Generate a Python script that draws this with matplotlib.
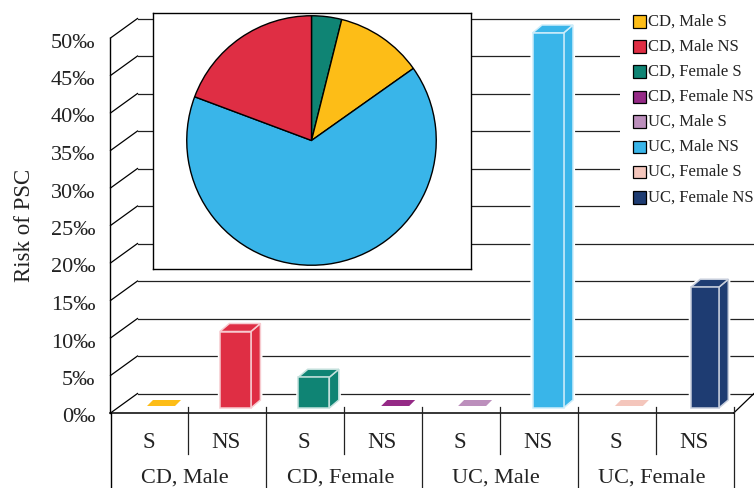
import matplotlib
matplotlib.use("Agg")
import matplotlib.pyplot as plt
from matplotlib.patches import Polygon, Rectangle

plt.rcParams["font.family"] = ["Liberation Serif", "DejaVu Serif"]

series_names = ["CD, Male S", "CD, Male NS", "CD, Female S", "CD, Female NS",
                "UC, Male S", "UC, Male NS", "UC, Female S", "UC, Female NS"]
series_colors = ["#FDBD17", "#DF2E44", "#0F8474", "#952A86",
                 "#BC8FBC", "#39B5E9", "#F4C6BC", "#1E3C72"]
risk_values = [0, 10.2, 4.1, 0, 0, 50, 0, 16.1]
sub_labels = ["S", "NS", "S", "NS", "S", "NS", "S", "NS"]
group_labels = ["CD, Male", "CD, Female", "UC, Male", "UC, Female"]
y_ticks = [0, 5, 10, 15, 20, 25, 30, 35, 40, 45, 50]

# inset pie, clockwise from twelve o'clock
pie_colors = ["#0F8474", "#FDBD17", "#39B5E9", "#DF2E44"]
pie_values = [3.9, 11.3, 65.5, 19.3]

W, H = 754, 488
AX_LEFT, AX_RIGHT = 110.5, 733.7
AX_BOTTOM, AX_TOP = 413.0, 38.0
CAT_W = (AX_RIGHT - AX_LEFT) / 8
UNIT_H = (AX_BOTTOM - AX_TOP) / 50
X_PX = 1 / CAT_W
Y_PX = 1 / UNIT_H

# bar footprint inside each category, in pixels
bar_left = [36.5, 31.5, 32, 37, 36, 32.5, 37, 35]
bar_width = [28, 31, 31, 28, 28, 31, 28, 28]

fig = plt.figure(figsize=(W / 100, H / 100), dpi=100)
ax = fig.add_axes([AX_LEFT / W, 1 - AX_BOTTOM / H,
                   (AX_RIGHT - AX_LEFT) / W, (AX_BOTTOM - AX_TOP) / H])
ax.set_xlim(0, 8)
ax.set_ylim(0, 50)
ax.axis("off")

# full-figure layer in pixel coordinates for the legend and text below the axis
px = fig.add_axes([0, 0, 1, 1], zorder=3)
px.set_xlim(0, W)
px.set_ylim(H, 0)
px.axis("off")
px.patch.set_alpha(0)

wall_dx = 27 * X_PX
wall_dy = 19.5 * Y_PX
x_end = (W - AX_LEFT) * X_PX

# back wall grid and floor
for tick in y_ticks:
    ax.plot([0, wall_dx], [tick, tick + wall_dy], color="black", lw=0.9,
            clip_on=False, zorder=1)
    ax.plot([wall_dx, x_end], [tick + wall_dy, tick + wall_dy], color="#222222",
            lw=0.9, clip_on=False, zorder=1)
ax.plot([8, 8 + (W - AX_RIGHT) * X_PX], [0, wall_dy], color="black", lw=0.9,
        clip_on=False, zorder=1)
ax.plot([0, 8], [0, 0], color="black", lw=1.1, clip_on=False, zorder=2)
ax.plot([0, 0], [0, 50], color="black", lw=1.0, clip_on=False, zorder=2)


def lighten(color, amount=0.75):
    rgb = matplotlib.colors.to_rgb(color)
    return tuple(c + (1 - c) * amount for c in rgb)


def draw_bar(i, value, color):
    x0 = i + bar_left[i] * X_PX
    x1 = x0 + bar_width[i] * X_PX
    if value == 0:
        # empty series only show as a flat tile on the floor
        y0 = 7 * Y_PX
        tile = [(x0, y0), (x1, y0), (x1 + 6 * X_PX, y0 + 6 * Y_PX),
                (x0 + 6 * X_PX, y0 + 6 * Y_PX)]
        ax.add_patch(Polygon(tile, facecolor=color, edgecolor="none",
                             clip_on=False, zorder=3))
        return
    y0 = 5 * Y_PX
    y1 = y0 + value
    dx = 9.5 * X_PX
    dy = 8 * Y_PX
    front = [(x0, y0), (x1, y0), (x1, y1), (x0, y1)]
    side = [(x1, y0), (x1 + dx, y0 + dy), (x1 + dx, y1 + dy), (x1, y1)]
    top = [(x0, y1), (x1, y1), (x1 + dx, y1 + dy), (x0 + dx, y1 + dy)]
    outline = [(x0, y0), (x1, y0), (x1 + dx, y0 + dy), (x1 + dx, y1 + dy),
               (x0 + dx, y1 + dy), (x0, y1)]
    ax.add_patch(Polygon(outline, facecolor="white", edgecolor="white", lw=3.0,
                         clip_on=False, zorder=3))
    edge = lighten(color)
    for face in (side, top, front):
        ax.add_patch(Polygon(face, facecolor=color, edgecolor=edge, lw=1.1,
                             clip_on=False, zorder=4))


for i, value in enumerate(risk_values):
    draw_bar(i, value, series_colors[i])

for tick in y_ticks:
    ax.text(-15 * X_PX, tick - 5 * Y_PX, f"{tick}‰", ha="right", va="center",
            fontsize=16, color="#222222", clip_on=False)
px.text(25, 225, "Risk of PSC", rotation=90, ha="center", va="center",
        fontsize=16.5, color="#222222")

# category dividers and labels under the floor
for i in range(1, 9):
    tick_x = AX_LEFT + i * CAT_W
    bottom = H if i % 2 == 0 else 454
    px.plot([tick_x, tick_x], [407, bottom], color="#222222", lw=0.9)
px.plot([AX_LEFT, AX_LEFT], [AX_BOTTOM, H], color="black", lw=1.0)
for i, label in enumerate(sub_labels):
    px.text(AX_LEFT + (i + 0.5) * CAT_W - 1, 443, label, ha="center", va="center",
            fontsize=16.5, color="#222222")
for i, label in enumerate(group_labels):
    px.text(AX_LEFT + (2 * i + 1) * CAT_W - 4, 478.5, label, ha="center", va="center",
            fontsize=16, color="#222222")

# legend block masks the upper grid lines
px.add_patch(Rectangle((620, 0), W - 620, 225, facecolor="white", edgecolor="none"))
legend_y = [21, 46, 71, 96.5, 121, 146.5, 171.5, 197]
for name, color, y in zip(series_names, series_colors, legend_y):
    px.add_patch(Rectangle((633, y - 6), 12.5, 12.5, facecolor=color,
                           edgecolor="black", lw=0.9))
    px.text(648, y + 0.5, name, ha="left", va="center", fontsize=12, color="#222222")

# inset pie panel
inset = fig.add_axes([153 / W, 1 - 268.5 / H, 318 / W, 255.5 / H], zorder=4)
inset.set_xlim(153, 471)
inset.set_ylim(268.5, 13)
inset.set_xticks([])
inset.set_yticks([])
for spine in inset.spines.values():
    spine.set_linewidth(1.0)
    spine.set_color("black")
pie_ax = fig.add_axes([(311.5 - 126) / W, 1 - (140.5 + 126) / H, 252 / W, 252 / H],
                      zorder=5)
pie_ax.pie(pie_values, colors=pie_colors, startangle=90, counterclock=False,
           radius=1.0, wedgeprops={"edgecolor": "black", "linewidth": 1.0})
pie_ax.set_xlim(-1.01, 1.01)
pie_ax.set_ylim(-1.01, 1.01)

fig.savefig("out.png", dpi=100, facecolor="white")
